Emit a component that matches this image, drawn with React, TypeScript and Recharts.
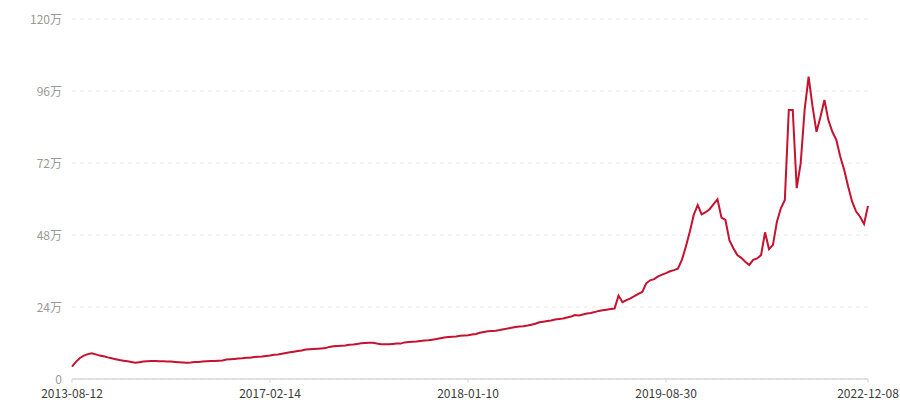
import React from 'react';
import { LineChart, Line, XAxis, YAxis, CartesianGrid } from 'recharts';

const values: number[] = [
  4.1, 5.7, 7.0, 7.8, 8.3, 8.6, 8.2, 7.8, 7.6, 7.2,
  6.9, 6.6, 6.3, 6.1, 5.9, 5.7, 5.4, 5.6, 5.8, 5.9,
  6.0, 6.0, 5.9, 5.9, 5.8, 5.8, 5.7, 5.6, 5.5, 5.4,
  5.5, 5.7, 5.7, 5.8, 5.9, 6.0, 6.0, 6.1, 6.2, 6.5,
  6.6, 6.7, 6.8, 6.9, 7.1, 7.1, 7.3, 7.4, 7.5, 7.7,
  7.8, 8.1, 8.2, 8.4, 8.7, 8.9, 9.1, 9.3, 9.5, 9.8,
  9.9, 10.0, 10.1, 10.2, 10.3, 10.7, 10.9, 11.0, 11.1, 11.2,
  11.4, 11.5, 11.7, 11.9, 12.0, 12.1, 12.1, 11.8, 11.6, 11.6,
  11.6, 11.7, 11.8, 11.8, 12.2, 12.3, 12.4, 12.5, 12.7, 12.8,
  12.9, 13.1, 13.3, 13.6, 13.8, 14.0, 14.1, 14.2, 14.4, 14.5,
  14.6, 14.8, 15.0, 15.4, 15.7, 15.9, 16.0, 16.1, 16.3, 16.6,
  16.8, 17.1, 17.3, 17.5, 17.6, 17.8, 18.1, 18.4, 18.9, 19.1,
  19.3, 19.5, 19.8, 20.0, 20.2, 20.5, 20.8, 21.3, 21.2, 21.5,
  21.8, 22.0, 22.3, 22.7, 22.9, 23.1, 23.3, 23.5, 27.8, 25.6,
  26.3, 26.9, 27.6, 28.4, 29.0, 31.9, 32.9, 33.3, 34.2, 34.8,
  35.3, 35.9, 36.3, 36.8, 39.7, 44.1, 49.1, 54.7, 58.0, 54.9,
  55.6, 56.6, 58.3, 59.9, 53.8, 53.0, 46.3, 43.6, 41.3, 40.4,
  39.1, 38.0, 39.7, 40.2, 41.3, 48.9, 43.3, 44.7, 52.4, 56.9,
  59.7, 89.7, 89.7, 63.6, 71.9, 89.7, 100.8, 90.8, 82.4, 87.4,
  93.0, 86.3, 82.4, 79.7, 74.1, 69.7, 64.1, 59.1, 55.8, 54.1,
  51.7, 57.7,
];

const tickIndices: number[] = [0, 50, 100, 150, 201];
const tickLabels: string[] = ['2013-08-12', '2017-02-14', '2018-01-10', '2019-08-30', '2022-12-08'];
const yTicks: number[] = [0, 24, 48, 72, 96, 120];

const data = values.map((v, i) => ({ idx: i, value: v }));

const FONT = '"Noto Sans CJK SC", "Noto Sans", sans-serif';

export default function App() {
  return (
    <div style={{ position: 'absolute', left: 0, top: 0, width: 900, height: 400, background: '#fff' }}>
      <LineChart width={900} height={400} data={data} margin={{ top: 19, right: 32, bottom: 0, left: 0 }}>
        <CartesianGrid vertical={false} stroke="#e6e6e6" strokeDasharray="4 4" />
        <XAxis
          dataKey="idx"
          type="number"
          domain={[0, values.length - 1]}
          ticks={tickIndices}
          interval={0}
          tickFormatter={(v: number) => tickLabels[tickIndices.indexOf(v)] ?? ''}
          height={21}
          axisLine={{ stroke: '#d9d9d9', strokeWidth: 1.6 }}
          tickLine={{ stroke: '#d9d9d9' }}
          tickSize={4}
          tickMargin={6}
          tick={{ fill: '#3a3a3a', fontSize: 12, fontFamily: FONT }}
        />
        <YAxis
          domain={[0, 120]}
          ticks={yTicks}
          interval={0}
          width={72}
          axisLine={false}
          tickLine={false}
          tickSize={0}
          tickMargin={10}
          tickFormatter={(v: number) => (v === 0 ? '0' : `${v}万`)}
          tick={{ fill: '#999', fontSize: 12, fontFamily: FONT, dy: 1 }}
        />
        <Line
          type="linear"
          dataKey="value"
          stroke="#c4122f"
          strokeWidth={2}
          dot={false}
          activeDot={false}
          isAnimationActive={false}
        />
      </LineChart>
    </div>
  );
}
